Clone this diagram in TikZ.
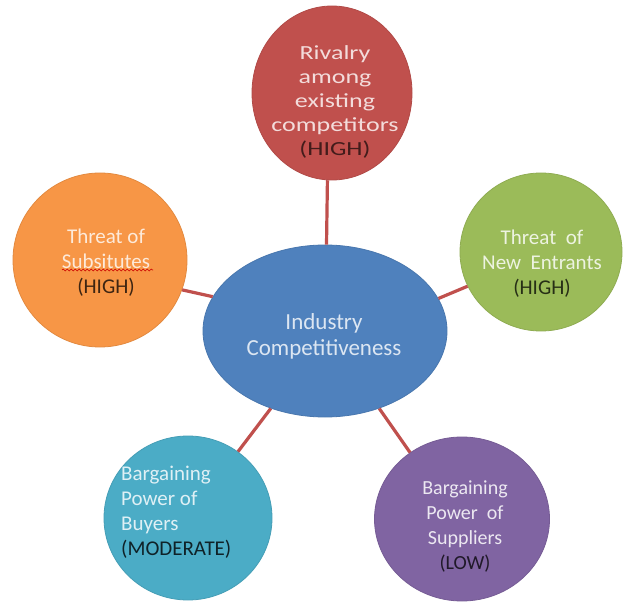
\documentclass[tikz,border=0pt]{standalone}
\usepackage{fontspec}
\setmainfont{Carlito}
\newfontfamily\widefont{Carlito}[FakeStretch=1.3]
\usetikzlibrary{shapes.geometric,decorations.pathmorphing}

\definecolor{forcered}{HTML}{C0504D}
\definecolor{forceorange}{HTML}{F79646}
\definecolor{forcegreen}{HTML}{9BBB59}
\definecolor{forceblue}{HTML}{4F81BD}
\definecolor{forceteal}{HTML}{4BACC6}
\definecolor{forcepurple}{HTML}{8064A2}

\tikzset{
  force/.style={ellipse, inner sep=0pt, line width=0.8pt},
  forcetext/.style={align=center, inner sep=0pt, font=\fontsize{21}{25}\selectfont},
  link/.style={draw=forcered, line width=3.2pt},
}

\begin{document}
\begin{tikzpicture}[x=1pt, y=-1pt]
  \useasboundingbox (0,0) rectangle (623,609);
  \fill[white] (0,0) rectangle (623,609);

  % circles of the five forces and the hub
  \node[force, fill=forcered, draw=forcered!92!black, minimum width=160pt, minimum height=174pt] (rival) at (332,93) {};
  \node[force, fill=forceorange, draw=forceorange!92!black, minimum width=174pt, minimum height=174pt] (subst) at (100,260) {};
  \node[force, fill=forcegreen, draw=forcegreen!92!black, minimum width=162pt, minimum height=158pt] (entr) at (541,252) {};
  \node[force, fill=forceteal, draw=forceteal!92!black, minimum width=168pt, minimum height=164pt] (buyer) at (188,518) {};
  \node[force, fill=forcepurple, draw=forcepurple!92!black, minimum width=175pt, minimum height=164pt] (suppl) at (462,519) {};
  \node[force, fill=forceblue, draw=forceblue!92!black, minimum width=244pt, minimum height=172pt] (hub) at (325,331) {};

  % spokes
  \draw[link] (rival.267) -- (hub.89);
  \draw[link] (subst.340) -- (hub.163);
  \draw[link] (entr.205) -- (hub.16);
  \draw[link] (buyer.53) -- (hub.235);
  \draw[link] (suppl.128) -- (hub.305);

  % labels
  \node[forcetext, font=\fontsize{23}{26}\selectfont, text=forceblue!20!white] (hubtext) at (324,336)
    {Industry\\Competitiveness};
  \node[forcetext, font=\widefont\fontsize{20}{24}\selectfont, text=forcered!20!white] (rivaltext) at (335,102)
    {Rivalry\\among\\existing\\competitors\\\textcolor{forcered!35!black}{(HIGH)}};
  \node[forcetext, text=forceorange!20!white] (substtext) at (106,263)
    {Threat of\\Subsitutes\\\textcolor{forceorange!25!black}{(HIGH)}};
  \node[forcetext, text=forcegreen!18!white] (entrtext) at (542,264)
    {Threat\ \ of\\New\ \ Entrants\\\textcolor{forcegreen!25!black}{(HIGH)}};
  \node[forcetext, align=left, anchor=west, text=forceteal!18!white] (buyertext) at (121,512)
    {Bargaining\\Power of\\Buyers\\\textcolor{forceteal!20!black}{(MODERATE)}};
  \node[forcetext, font=\fontsize{20}{25}\selectfont, text=forcepurple!15!white] (suppltext) at (465,527)
    {Bargaining\\Power\ \ of\\Suppliers\\\textcolor{forcepurple!25!black}{(LOW)}};

  % spell-check squiggle under the misspelt word
  \draw[red!80!black, line width=0.6pt, decorate,
        decoration={snake, amplitude=0.9pt, segment length=4pt}]
    (62,270) -- (153,270);
\end{tikzpicture}
\end{document}
